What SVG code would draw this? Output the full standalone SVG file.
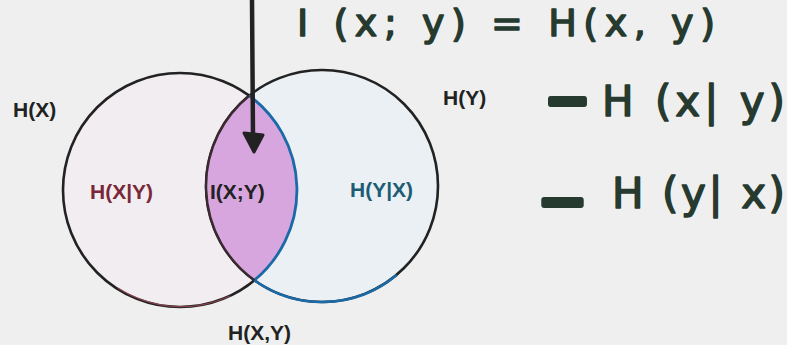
<svg xmlns="http://www.w3.org/2000/svg" width="787" height="345" viewBox="0 0 787 345">
<style>
.lbl{font-family:"Liberation Sans",Arial,sans-serif;font-weight:bold;font-size:21px;fill:#222}
.hw{font-family:"DejaVu Sans",sans-serif;fill:#263a2f;stroke:#263a2f;stroke-width:1.5;stroke-linejoin:round}
.dash{font-family:"DejaVu Sans",sans-serif;font-size:60px;fill:#263a2f;stroke:#263a2f;stroke-width:6;stroke-linejoin:round}
.ring{stroke:#222;stroke-width:2.6}
</style>
<rect width="787" height="345" fill="#efefef"/>
<g id="circleX">
<circle class="ring" cx="180" cy="190" r="117" fill="#f2edf0"/>
<path d="M 118 288 A 117 117 0 0 0 230 296" fill="none" stroke="#b0505f" stroke-width="1.2" opacity="0.7"/>
</g>
<g id="circleY">
<circle class="ring" cx="322" cy="186" r="116" fill="#e9eff3" fill-opacity="0.9"/>
<path d="M 254.4 280.2 A 116 116 0 0 0 396.6 274.9" fill="none" stroke="#1a6aa8" stroke-width="2.6"/>
</g>
<g id="intersection">
<path d="M 249.2 95.7 A 117 117 0 0 1 254.4 280.2 A 116 116 0 0 1 249.2 95.7 Z" fill="#d8a6de"/>
<path d="M 249.2 95.7 A 117 117 0 0 1 254.4 280.2" fill="none" stroke="#1a6aa8" stroke-width="2.8"/>
<path d="M 254.4 280.2 A 116 116 0 0 1 249.2 95.7" fill="none" stroke="#3a2a30" stroke-width="2.4"/>
</g>
<g id="labels">
<text class="lbl" x="13" y="117">H(X)</text>
<text class="lbl" x="443" y="105">H(Y)</text>
<text class="lbl" x="90" y="199" style="fill:#7a2838">H(X|Y)</text>
<text class="lbl" x="210" y="199">I(X;Y)</text>
<text class="lbl" x="350" y="197" style="fill:#1d5c74">H(Y|X)</text>
<text class="lbl" x="228" y="340">H(X,Y)</text>
</g>
<g id="connectors">
<line x1="252" y1="0" x2="253" y2="136" stroke="#222" stroke-width="4.5" stroke-linecap="round"/>
<polygon points="244,133 263,135 254,152" fill="#222" stroke="#222" stroke-width="3" stroke-linejoin="round"/>
</g>
<g id="equation">
<text class="hw" x="297" y="36" font-size="38" textLength="418" lengthAdjust="spacing">I (x; y) = H(x, y)</text>
<text class="dash" x="545" y="120" textLength="45" lengthAdjust="spacingAndGlyphs">−</text>
<text class="hw" x="602" y="116" font-size="42" textLength="183" lengthAdjust="spacing">H (x| y)</text>
<text class="dash" x="538" y="221" textLength="49" lengthAdjust="spacingAndGlyphs">−</text>
<text class="hw" x="612" y="208" font-size="42" textLength="173" lengthAdjust="spacing">H (y| x)</text>
</g>
</svg>
